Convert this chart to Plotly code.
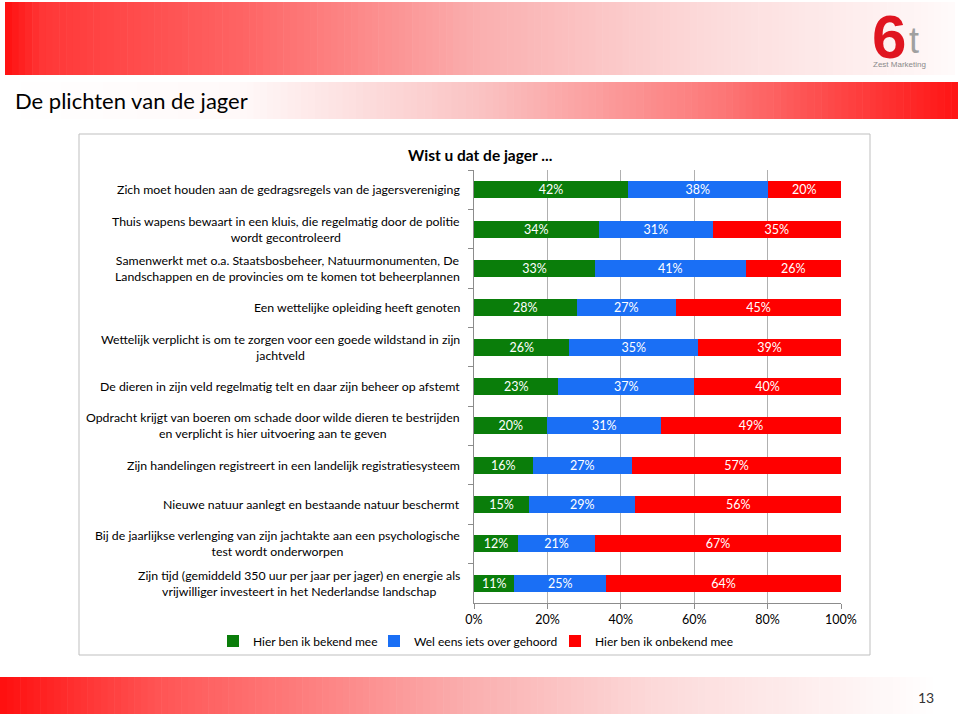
import plotly.graph_objects as go

# ---------------- data ----------------
categories = [
    "Zich moet houden aan de gedragsregels van de jagersvereniging",
    "Thuis wapens bewaart in een kluis, die regelmatig door de politie<br>wordt gecontroleerd",
    "Samenwerkt met o.a. Staatsbosbeheer, Natuurmonumenten, De<br>Landschappen en de provincies om te komen tot beheerplannen",
    "Een wettelijke opleiding heeft genoten",
    "Wettelijk verplicht is om te zorgen voor een goede wildstand in zijn<br>jachtveld",
    "De dieren in zijn veld regelmatig telt en daar zijn beheer op afstemt",
    "Opdracht krijgt van boeren om schade door wilde dieren te bestrijden<br>en verplicht is hier uitvoering aan te geven",
    "Zijn handelingen registreert in een landelijk registratiesysteem",
    "Nieuwe natuur aanlegt en bestaande natuur beschermt",
    "Bij de jaarlijkse verlenging van zijn jachtakte aan een psychologische<br>test wordt onderworpen",
    "Zijn tijd (gemiddeld 350 uur per jaar per jager) en energie als<br>vrijwilliger investeert in het Nederlandse landschap",
]
bekend = [42, 34, 33, 28, 26, 23, 20, 16, 15, 12, 11]
gehoord = [38, 31, 41, 27, 35, 37, 31, 27, 29, 21, 25]
onbekend = [20, 35, 26, 45, 39, 40, 49, 57, 56, 67, 64]
series_names = ["Hier ben ik bekend mee", "Wel eens iets over gehoord", "Hier ben ik onbekend mee"]
tick_values = [0, 20, 40, 60, 80, 100]
tick_labels = ["0%", "20%", "40%", "60%", "80%", "100%"]

page_title = "De plichten van de jager"
chart_title = "Wist u dat de jager ..."
page_number = "13"

# ---------------- styling ----------------
W, H = 960, 716
FONT = "Lato"
colors = ["#0a7d0a", "#1a6ff5", "#ff0000"]
legend_widths = [116, 136, 140]
keys = [str(i) for i in range(len(categories))]

def px(x):
    return x / W

def py(y):
    return 1 - y / H

fig = go.Figure()
for name, vals, col, lw in zip(series_names, [bekend, gehoord, onbekend], colors, legend_widths):
    fig.add_trace(go.Bar(
        y=keys, x=vals, name=name, orientation="h",
        marker=dict(color=col, line=dict(width=0)),
        width=0.43, legendwidth=lw,
        text=[f"{v}%" for v in vals], textposition="inside",
        insidetextanchor="middle", constraintext="none",
        textfont=dict(color="white", size=12.5, family=FONT),
        hoverinfo="skip",
    ))

shapes = []

def gradient_band(x0, x1, y0, y1, stops, n=140):
    out = []
    for i in range(n):
        t = (i + 0.5) / n
        c = stops[-1][1]
        for j in range(len(stops) - 1):
            if stops[j][0] <= t <= stops[j + 1][0]:
                a, ca = stops[j]
                b, cb = stops[j + 1]
                f = (t - a) / (b - a) if b > a else 0
                c = tuple(int(round(ca[k] + (cb[k] - ca[k]) * f)) for k in range(3))
                break
        xa = x0 + (x1 - x0) * i / n
        xb = x0 + (x1 - x0) * (i + 1) / n + 0.6
        out.append(dict(type="rect", xref="paper", yref="paper",
                        x0=px(xa), x1=px(min(xb, x1)), y0=py(y1), y1=py(y0),
                        fillcolor=f"rgb{c}", line=dict(width=0), layer="below"))
    return out

shapes += gradient_band(5, 955, 2, 75, [
    (0, (255, 15, 15)), (0.04, (255, 55, 55)), (0.25, (254, 100, 100)),
    (0.5, (250, 175, 175)), (0.75, (252, 220, 220)), (1, (255, 250, 250))])
shapes += gradient_band(0, 958, 82, 119, [
    (0, (255, 255, 255)), (0.25, (255, 249, 249)), (0.5, (250, 195, 195)),
    (0.75, (252, 120, 120)), (1, (255, 20, 20))])
shapes += gradient_band(0, 940, 677, 714, [
    (0, (255, 15, 15)), (0.17, (255, 85, 85)), (0.34, (253, 130, 130)),
    (0.5, (250, 175, 175)), (0.7, (252, 218, 218)), (1, (255, 255, 255))])

# chart frame
shapes.append(dict(type="rect", xref="paper", yref="paper",
                   x0=px(79), x1=px(870), y0=py(655), y1=py(134),
                   line=dict(color="#bfbfbf", width=1), fillcolor="rgba(0,0,0,0)", layer="below"))

annotations = []
for k, cat in zip(keys, categories):
    annotations.append(dict(
        x=px(462), xref="paper", y=k, yref="y", text=cat,
        xanchor="right", yanchor="middle", align="center", showarrow=False,
        font=dict(family=FONT, size=12.3, color="#000000"),
    ))

annotations += [
    dict(x=px(13), y=py(100), xref="paper", yref="paper", text=page_title,
         xanchor="left", yanchor="middle", showarrow=False,
         font=dict(family=FONT, size=22, color="#000000")),
    dict(x=px(480), y=py(155), xref="paper", yref="paper", text=f"<b>{chart_title}</b>",
         xanchor="center", yanchor="middle", showarrow=False,
         font=dict(family=FONT, size=15.5, color="#000000")),
    dict(x=px(926), y=py(697), xref="paper", yref="paper", text=page_number,
         xanchor="center", yanchor="middle", showarrow=False,
         font=dict(family=FONT, size=14, color="#333333")),
    # logo
    dict(x=px(907), y=py(0.5), xref="paper", yref="paper", text="<b>6</b>",
         xanchor="right", yanchor="top", showarrow=False, borderpad=0,
         font=dict(family="Liberation Sans", size=62, color="#e01520")),
    dict(x=px(908), y=py(40), xref="paper", yref="paper", text="t",
         xanchor="left", yanchor="middle", showarrow=False, borderpad=0,
         font=dict(family="Liberation Sans", size=36, color="#a0a0a0")),
    dict(x=px(899), y=py(64), xref="paper", yref="paper", text="Zest Marketing",
         xanchor="center", yanchor="middle", showarrow=False, borderpad=0,
         font=dict(family="Liberation Sans Narrow, Liberation Sans", size=8, color="#8a8a8a")),
]

fig.update_layout(
    width=W, height=H,
    margin=dict(l=0, r=0, t=0, b=0, autoexpand=False),
    paper_bgcolor="white", plot_bgcolor="white",
    barmode="stack",
    font=dict(family=FONT, size=12, color="#000000"),
    shapes=shapes, annotations=annotations,
    showlegend=True,
    legend=dict(orientation="h", x=px(213), y=py(641), xanchor="left", yanchor="middle",
                font=dict(family=FONT, size=12, color="#000000"),
                bgcolor="rgba(0,0,0,0)", itemclick=False, itemdoubleclick=False,
                traceorder="normal", itemwidth=30),
    xaxis=dict(domain=[px(474), px(841)], range=[0, 100],
               tickmode="array", tickvals=tick_values, ticktext=tick_labels,
               showgrid=True, gridcolor="#b0b0b0", gridwidth=1,
               showline=True, linecolor="#8c8c8c", linewidth=1,
               ticks="outside", ticklen=5, tickcolor="#8c8c8c",
               tickfont=dict(family=FONT, size=12.5, color="#000000"),
               zeroline=False, fixedrange=True, automargin=False),
    yaxis=dict(domain=[py(603), py(170)], type="category",
               categoryorder="array", categoryarray=keys,
               autorange="reversed", showticklabels=False,
               showline=True, linecolor="#8c8c8c", linewidth=1,
               ticks="outside", ticklen=5, tickcolor="#8c8c8c",
               tickson="boundaries", showgrid=False, fixedrange=True, automargin=False),
)

fig.write_html(
    "out.html",
    config=dict(displayModeBar=False),
    post_script=(
        "document.body.style.margin='0';"
        "document.body.style.overflow='hidden';"
        "document.documentElement.style.overflow='hidden';"
    ),
)
